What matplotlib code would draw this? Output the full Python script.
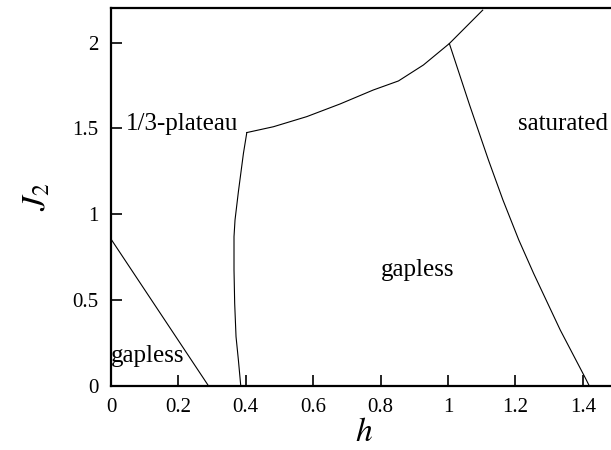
import matplotlib
matplotlib.use("Agg")
import matplotlib.pyplot as plt

plt.rcParams["font.family"] = ["Liberation Serif", "DejaVu Serif"]
plt.rcParams["mathtext.fontset"] = "stix"

# phase boundaries (h, J2)
h_low = [0.0, 0.289]
j_low = [0.855, 0.0]

h_plateau_left = [0.385, 0.378, 0.371, 0.367, 0.365, 0.365, 0.368, 0.378, 0.393, 0.403]
j_plateau_left = [0.0, 0.150, 0.286, 0.480, 0.675, 0.869, 0.966, 1.131, 1.355, 1.476]

h_plateau_top = [0.403, 0.482, 0.581, 0.680, 0.778, 0.853, 0.927, 1.004, 1.103]
j_plateau_top = [1.476, 1.510, 1.569, 1.643, 1.724, 1.777, 1.870, 1.995, 2.19]

h_sat = [1.004, 1.064, 1.120, 1.163, 1.210, 1.254, 1.333, 1.408, 1.419]
j_sat = [1.995, 1.637, 1.316, 1.083, 0.850, 0.655, 0.325, 0.043, 0.0]

# region labels: (text, h, J2)
regions = [
    ("1/3-plateau", 0.045, 1.49),
    ("saturated", 1.208, 1.49),
    ("gapless", 0.80, 0.64),
    ("gapless", 0.0, 0.14),
]

xticks = [0, 0.2, 0.4, 0.6, 0.8, 1, 1.2, 1.4]
yticks = [0, 0.5, 1, 1.5, 2]

fig = plt.figure(figsize=(6.11, 4.5), dpi=100)
W, H = 611, 450
x0, y0 = 111, 450 - 385.7
ax = fig.add_axes([x0 / W, y0 / H, 1.5 * 337 / W, 2.2 * 171.5 / H])

for hs, js in [(h_low, j_low), (h_plateau_left, j_plateau_left),
               (h_plateau_top, j_plateau_top), (h_sat, j_sat)]:
    ax.plot(hs, js, color="black", lw=0.8)

for txt, hx, jy in regions:
    ax.text(hx, jy, txt, fontsize=18, ha="left", va="baseline")

ax.set_xlim(0, 1.5)
ax.set_ylim(0, 2.2)
ax.set_xticks(xticks)
ax.set_xticklabels(["0", "0.2", "0.4", "0.6", "0.8", "1", "1.2", "1.4"])
ax.set_yticks(yticks)
ax.set_yticklabels(["0", "0.5", "1", "1.5", "2"])
ax.tick_params(direction="in", length=8, width=1.2, labelsize=15,
               top=False, right=False)
ax.tick_params(axis="x", pad=9)
ax.tick_params(axis="y", pad=9)
for s in ax.spines.values():
    s.set_linewidth(1.6)

ax.set_xlabel("$h$", fontsize=24, labelpad=0)
ax.set_ylabel("$J_2$", fontsize=24, labelpad=14)

fig.savefig("out.png", dpi=100)
